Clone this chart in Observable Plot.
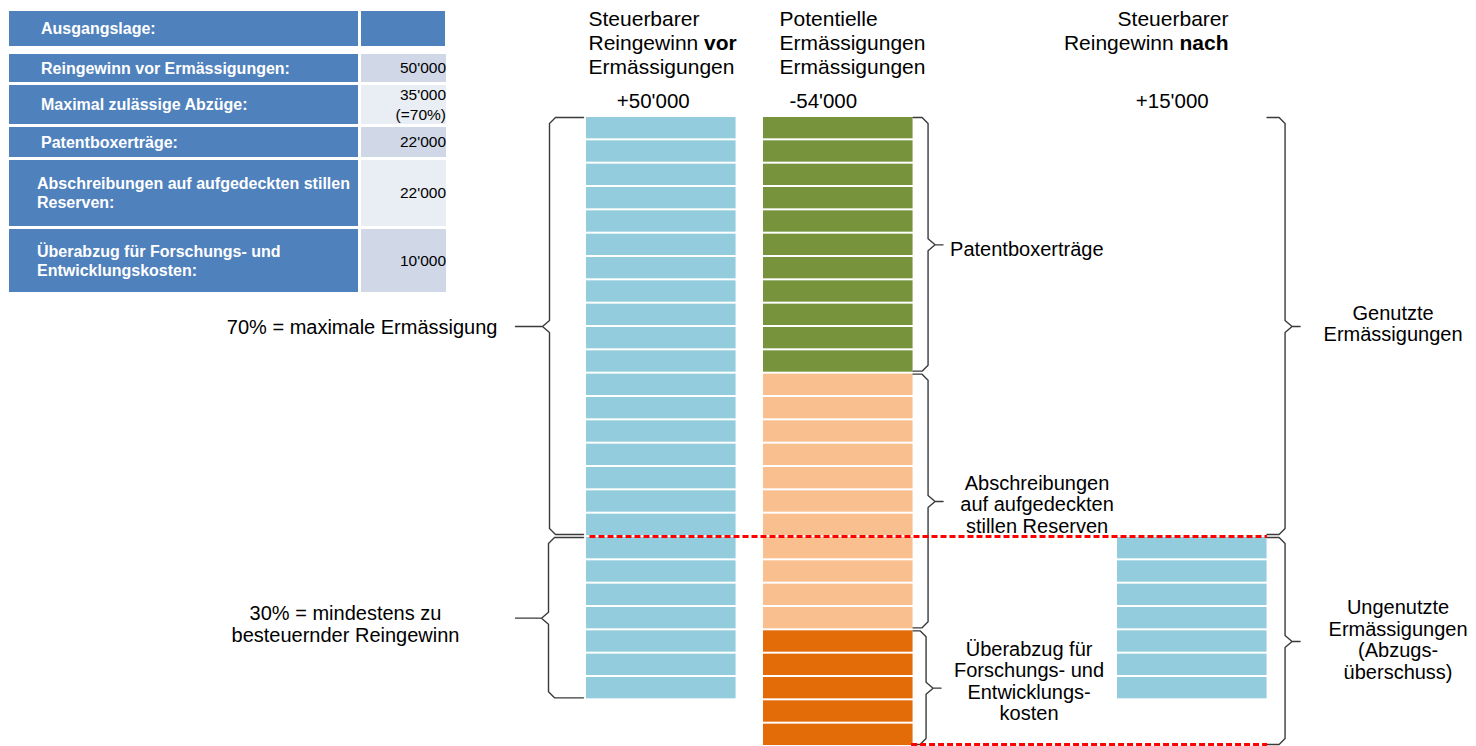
<!DOCTYPE html>
<html><head><meta charset="utf-8">
<script src="https://cdn.jsdelivr.net/npm/d3@7"></script>
<script src="https://cdn.jsdelivr.net/npm/@observablehq/plot@0.6"></script>
<style>
body{margin:0;background:#fff;}
#wrap{position:relative;width:1476px;height:746px;font-family:"Liberation Sans",Arial,sans-serif;overflow:hidden;background:#fff}
#chart{position:absolute;left:0;top:0}
#tbl{position:absolute;left:0;top:0}
.cell{position:absolute;box-sizing:border-box;display:flex;align-items:center;white-space:pre-line}
.lab{background:#4f81bd;color:#fff;font-weight:bold;font-size:16px;line-height:19px}
.val{justify-content:flex-end;text-align:right;font-size:15.5px;line-height:20px;color:#000}
</style></head><body>
<div id="wrap"><div id="chart"></div><div id="tbl"></div></div>
<script>
// ---------------- data ----------------
const tableHeader = "Ausgangslage:";
const tableLabels = ["Reingewinn vor Ermässigungen:", "Maximal zulässige Abzüge:", "Patentboxerträge:",
  "Abschreibungen auf aufgedeckten stillen\nReserven:", "Überabzug für Forschungs- und\nEntwicklungskosten:"];
const tableValues = ["50'000", "35'000\n(=70%)", "22'000", "22'000", "10'000"];

const columns = ["vor", "potentiell", "nach"];
const columnTitles = [["Steuerbarer", "Reingewinn **vor**", "Ermässigungen"],
  ["Potentielle", "Ermässigungen", "Ermässigungen"],
  ["Steuerbarer", "Reingewinn **nach**"]];
const columnTotals = ["+50'000", "-54'000", "+15'000"];

const segmentColumn = ["vor", "potentiell", "potentiell", "potentiell", "nach"];
const segmentName = ["Reingewinn vor", "Patentboxerträge", "Abschreibungen", "Überabzug F&E", "Reingewinn nach"];
const segmentStart = [0, 0, 22000, 44000, 36000];
const segmentEnd = [50000, 22000, 44000, 54000, 50000];
const blockSize = 2000;
const thresholdValue = 36000;   // 70 % boundary as drawn
const bottomValue = 54000;

const bracketLabels = ["70% = maximale Ermässigung", "30% = mindestens zu\nbesteuernder Reingewinn",
  "Patentboxerträge", "Abschreibungen\nauf aufgedeckten\nstillen Reserven",
  "Überabzug für\nForschungs- und\nEntwicklungs-\nkosten", "Genutzte\nErmässigungen",
  "Ungenutzte\nErmässigungen\n(Abzugs-\nüberschuss)"];
const bracketFrom = [0, 36000, 0, 22000, 44000, 0, 36000];
const bracketTo = [36000, 50000, 22000, 44000, 54000, 36000, 54000];

// ---------------- layout / style ----------------
const segmentColors = ["#93cddd", "#77933c", "#f9bf8f", "#e36c09", "#93cddd"];
const colSlot = {vor: 0, potentiell: 1, nach: 3};
const colW = 0.845;
const xDomain = [0, 3], xRange = [586, 1117];
const yDomain = [0, 54000], yRange = [116, 746];
const sx = d3.scaleLinear(xDomain, xRange);
const sy = d3.scaleLinear(yDomain, yRange);
const FONT = "Liberation Sans, Arial, sans-serif";

const bSide = ["left", "left", "right", "right", "right", "right", "right"];
const bCol = ["vor", "vor", "potentiell", "potentiell", "potentiell", "nach", "nach"];
const bGap = [37, 38, 15, 15, 13, 18, 18];
const bTip = [34, 33, 15, 15, 15, 15, 15];
const bLabAnchor = ["end", "middle", "start", "middle", "middle", "middle", "middle"];
const bLabDx = [-18, -170, 7, 94, 88, 93, 98];
const bLabDy = [1, 6, 4, 3, -7, -3, -2];

// ---------------- table (HTML) ----------------
const tbl = document.getElementById("tbl");
function cell(cls, x, y, w, h, text, extra) {
  const d = document.createElement("div");
  d.className = "cell " + cls;
  Object.assign(d.style, {left: x + "px", top: y + "px", width: w + "px", height: h + "px"}, extra || {});
  d.textContent = text;
  tbl.appendChild(d);
}
cell("lab", 9, 11, 349, 35, tableHeader, {paddingLeft: "32px"});
cell("lab", 361, 11, 84, 35, "");
const rowTop = [54, 85, 127, 160, 229], rowH = [28, 39, 30, 66, 63];
const valBg = ["#d0d8e8", "#e9edf4", "#d0d8e8", "#e9edf4", "#d0d8e8"];
tableLabels.forEach((t, i) => {
  cell("lab", 9, rowTop[i], 349, rowH[i], t, {paddingLeft: (t.includes("\n") ? 28 : 32) + "px"});
  cell("val", 361, rowTop[i], 84, rowH[i], tableValues[i], {background: valBg[i], marginRight: "-1px", paddingRight: "0px", width: "85px", backgroundClip: "content-box"});
});

// ---------------- chart ----------------
const blocks = [];
segmentColumn.forEach((c, i) => {
  for (let v = segmentStart[i]; v < segmentEnd[i]; v += blockSize)
    blocks.push({col: c, seg: segmentName[i], color: segmentColors[i], y1: v, y2: Math.min(v + blockSize, segmentEnd[i])});
});

const pxToY = p => sy.invert(p) - sy.invert(0); // pixel length -> y units
const pxToX = p => sx.invert(p) - sx.invert(0);

// brackets as polylines
const bracePts = [];
const braceLabels = [];
bracketLabels.forEach((lab, i) => {
  const c = colSlot[bCol[i]];
  const left = bSide[i] === "left";
  const edge = left ? c : c + colW;
  const xa = edge + (left ? -pxToX(3) : pxToX(0));
  const xv = edge + (left ? -pxToX(bGap[i]) : pxToX(bGap[i]));
  const s = left ? 1 : -1;             // direction of arms
  const xt = xv - s * pxToX(bTip[i]);
  const y0 = bracketFrom[i] + pxToY(1);
  const y1 = Math.min(bracketTo[i], bottomValue) - pxToY(2);
  const yt = (bracketFrom[i] + bracketTo[i]) / 2;
  const cx = pxToX(6), r = pxToY(6), ct = pxToX(7);
  const pts = [[xa, y0], [xv + s * cx, y0], [xv, y0 + r], [xv, yt - r], [xv - s * ct, yt], [xt, yt],
               [xv - s * ct, yt], [xv, yt + r], [xv, y1 - r], [xv + s * cx, y1], [xa, y1]];
  pts.forEach(([x, y]) => bracePts.push({id: i, x, y}));
  braceLabels.push({text: lab, anchor: bLabAnchor[i], x: xt + pxToX(bLabDx[i]), y: yt + pxToY(bLabDy[i])});
});

// header texts with bold segments (measured)
const ctx = document.createElement("canvas").getContext("2d");
function measure(t, size, bold) { ctx.font = `${bold ? "bold " : ""}${size}px "Liberation Sans"`; return ctx.measureText(t).width; }
const titleSize = 21;
const titleAnchor = ["start", "start", "end"];
const titleOffset = [2, 16, 111];        // px from column left
const titleLineY = [-97, -73, -49];      // px from top of blocks
const titleParts = [];
columnTitles.forEach((lines, ci) => {
  const colLeftPx = sx(colSlot[columns[ci]]);
  lines.forEach((line, li) => {
    const parts = line.split("**").map((t, k) => ({t, bold: k % 2 === 1})).filter(p => p.t.length);
    const total = d3.sum(parts, p => measure(p.t, titleSize, p.bold));
    let px = colLeftPx + titleOffset[ci] - (titleAnchor[ci] === "end" ? total : 0);
    parts.forEach(p => {
      titleParts.push({text: p.t.trim(), bold: p.bold, x: sx.invert(px + (p.t.startsWith(" ") ? measure(" ", titleSize, p.bold) : 0)), y: sy.invert(sy(0) + titleLineY[li])});
      px += measure(p.t, titleSize, p.bold);
    });
  });
});
const totalOffset = [-8, -15, -20];
const totals = columnTotals.map((t, i) => ({text: t, x: colSlot[columns[i]] + colW / 2 + pxToX(totalOffset[i]), y: sy.invert(sy(0) - 15)}));

const lineDefs = [
  {y: thresholdValue, x1: colSlot.vor + pxToX(3), x2: colSlot.nach + colW},
  {y: bottomValue - pxToY(2), x1: colSlot.potentiell + colW - pxToX(2), x2: colSlot.nach + colW}
];

const labelMarks = ["start", "middle", "end"].map(a =>
  Plot.text(braceLabels.filter(d => d.anchor === a), {x: "x", y: "y", text: "text", textAnchor: a,
    fontSize: 20, lineHeight: 1.08, fill: "#000", fontFamily: FONT}));

const chart = Plot.plot({
  width: 1476, height: 746,
  marginTop: 0, marginBottom: 0, marginLeft: 0, marginRight: 0,
  x: {domain: xDomain, range: xRange, axis: null},
  y: {domain: yDomain, range: yRange, axis: null},
  color: {type: "identity"},
  style: {background: "transparent", fontFamily: FONT, overflow: "visible"},
  marks: [
    Plot.rect(blocks, {x1: d => colSlot[d.col], x2: d => colSlot[d.col] + colW, y1: "y1", y2: "y2",
      fill: "color", insetTop: 1, insetBottom: 1}),
    Plot.line(bracePts, {x: "x", y: "y", z: "id", stroke: "#3a3a3a", strokeWidth: 1.4, curve: "linear"}),
    Plot.link(lineDefs, {x1: "x1", x2: "x2", y1: "y", y2: "y", stroke: "#ff0000", strokeWidth: 3, strokeDasharray: "6,3"}),
    ...labelMarks,
    Plot.text(titleParts.filter(d => !d.bold), {x: "x", y: "y", text: "text", textAnchor: "start", fontSize: titleSize, fill: "#000", fontFamily: FONT}),
    Plot.text(titleParts.filter(d => d.bold), {x: "x", y: "y", text: "text", textAnchor: "start", fontSize: titleSize, fontWeight: "bold", fill: "#000", fontFamily: FONT}),
    Plot.text(totals, {x: "x", y: "y", text: "text", textAnchor: "middle", fontSize: 20.5, fill: "#000", fontFamily: FONT})
  ]
});
document.getElementById("chart").appendChild(chart);
</script>
</body></html>
